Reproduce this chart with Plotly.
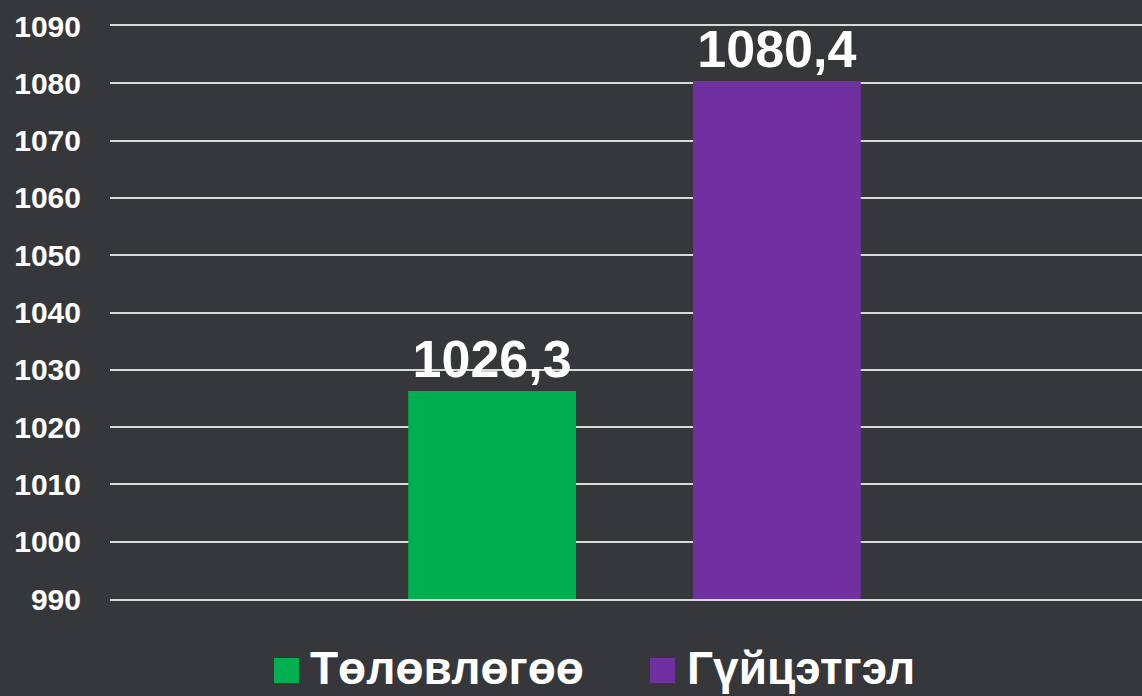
import plotly.graph_objects as go

# values
categories = [""]
series_names = ["Төлөвлөгөө", "Гүйцэтгэл"]
plan_values = [1026.3]
actual_values = [1080.4]
colors = ["#00b050", "#7030a0"]
y_ticks = [990, 1000, 1010, 1020, 1030, 1040, 1050, 1060, 1070, 1080, 1090]

W, H = 1142, 696
ML, MR, MT, MB = 110, 0, 26, 97
bg = "#36373b"
grid_col = "#d9d9d9"
font_family = "Liberation Sans, Arial, sans-serif"

fig = go.Figure()
for name, vals, col in zip(series_names, [plan_values, actual_values], colors):
    fig.add_trace(go.Bar(
        x=categories, y=vals, name=name,
        marker=dict(color=col, line=dict(width=0)),
        texttemplate="<b>%{y:.1f}</b>",
        textposition="outside",
        textfont=dict(size=52, color="white", family=font_family),
        cliponaxis=False,
        constraintext="none",
        showlegend=False,
    ))


def px_to_paper_x(px):
    return (px - ML) / (W - ML - MR)


def px_to_paper_y(py):
    return (H - MB - py) / (H - MT - MB)


# custom legend, big squares like the original
legend_items = [
    (274, 311, series_names[0], colors[0]),
    (650, 688, series_names[1], colors[1]),
]
for sq_x, txt_x, name, col in legend_items:
    fig.add_shape(type="rect", xref="paper", yref="paper",
                  x0=px_to_paper_x(sq_x), x1=px_to_paper_x(sq_x + 25),
                  y0=px_to_paper_y(683), y1=px_to_paper_y(658),
                  fillcolor=col, line=dict(width=0))
    fig.add_annotation(xref="paper", yref="paper",
                       x=px_to_paper_x(txt_x - 3), y=px_to_paper_y(668),
                       xanchor="left", yanchor="middle",
                       text=f"<b>{name}</b>", showarrow=False,
                       font=dict(size=46, color="white", family=font_family))

fig.update_layout(
    width=W, height=H,
    margin=dict(l=ML, r=MR, t=MT, b=MB),
    paper_bgcolor=bg, plot_bgcolor=bg,
    barmode="group",
    bargap=0.457,
    bargroupgap=0.411,
    separators=",.",
    showlegend=False,
    font=dict(family=font_family, color="white"),
)
# axis line + mirror give the 990 and 1090 lines
fig.update_xaxes(
    showticklabels=False, showgrid=False, zeroline=False,
    range=[-0.5, 0.4838],
    showline=True, mirror=True, linecolor=grid_col, linewidth=2,
)
fig.update_yaxes(
    range=[990, 1090], tickvals=y_ticks,
    ticktext=[f"<b>{t}</b>" for t in y_ticks],
    tickfont=dict(size=30, color="white", family=font_family),
    showgrid=True, gridcolor=grid_col, gridwidth=2,
    zeroline=False, ticklabelstandoff=28,
)

fig.write_html("out.html", config={"displayModeBar": False},
               post_script="document.body.style.margin='0';")
